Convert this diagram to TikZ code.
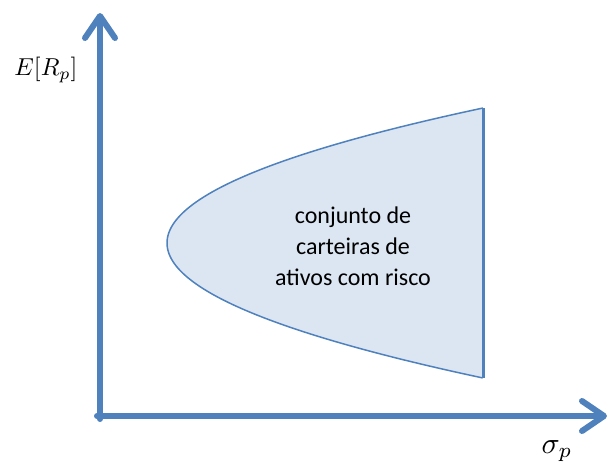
\documentclass[tikz,border=0pt]{standalone}
\usepackage{fontspec}
\setmainfont{Carlito}
\usetikzlibrary{arrows.meta}
\definecolor{axisblue}{RGB}{79,129,189}
\definecolor{setfill}{RGB}{220,230,242}
\tikzset{axis/.style={axisblue, line width=6pt, line cap=round, -{Straight Barb[length=22pt,width=30pt,round]}}}
\begin{document}
\begin{tikzpicture}[x=1pt,y=-1pt]
\useasboundingbox (0,0) rectangle (610,469);
\coordinate (origin) at (100,416);
\coordinate (ytip) at (100,13);
\coordinate (xtip) at (607,416);
\draw[axis] (100,419) -- (ytip);
\draw[axis] (97,416) -- (xtip);
\node[scale=2.45] (ylabel) at (46,70) {$E[R_p]$};
\node[scale=3] (xlabel) at (557,451) {$\sigma_p$};
% set of risky portfolios
\draw[domain=-1:1, smooth, samples=60, variable=\t, axisblue, line width=1.5pt, fill=setfill]
  plot ({167+316*\t*\t},{243+135*\t});
\draw[axisblue, line width=3pt] (483,108) -- (483,378);
\node[align=center, font=\fontsize{24}{31}\selectfont] (set) at (353,246) {conjunto de\\carteiras de\\ativos com risco};
\end{tikzpicture}
\end{document}
